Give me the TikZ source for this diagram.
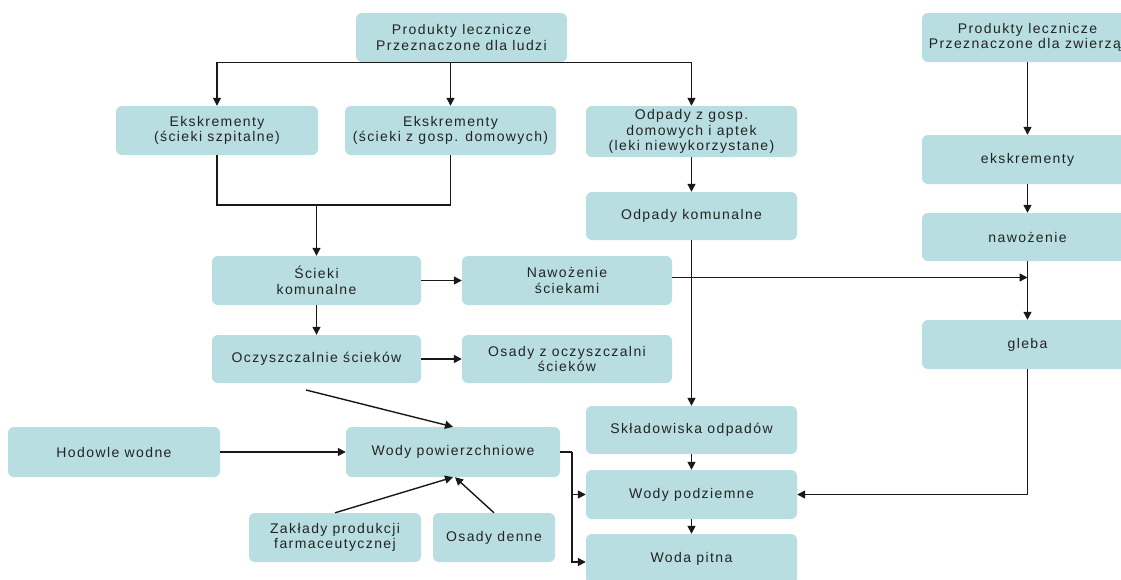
\documentclass[tikz,border=0pt]{standalone}
\usepackage{fontspec}
\setmainfont{Liberation Sans}[LetterSpace=10]
\usetikzlibrary{arrows.meta,calc}
\definecolor{boxfill}{RGB}{184,222,225}
\definecolor{txt}{RGB}{35,35,35}
\definecolor{ln}{RGB}{25,25,25}
\newcommand\bx[6]{\node[box, minimum width={(#4-#2)*1pt}, minimum height={(#5-#3)*1pt}] (#1) at ({(#2+#4)/2},{(#3+#5)/2}) {#6};}
\begin{document}
\begin{tikzpicture}[x=1pt,y=-1pt,
  box/.style={fill=boxfill, rounded corners=6pt, inner sep=0pt, align=center, text=txt, font=\fontsize{14}{15.5}\selectfont},
  conn/.style={draw=ln, line width=1.4pt},
  arr/.style={conn, -{Triangle[length=8pt,width=8pt]}}]
\useasboundingbox (0,0) rectangle (1121,579);
\clip (0,0) rectangle (1121,579);
\fill[white] (0,0) rectangle (1121,579);
\bx{top}{356}{13}{567}{62}{Produkty lecznicze\\Przeznaczone dla ludzi}
\bx{ek1}{116}{106}{318}{155}{Ekskrementy\\(ścieki szpitalne)}
\bx{ek2}{345}{106}{556}{155}{Ekskrementy\\(ścieki z gosp. domowych)}
\bx{odp}{586}{106}{797}{157}{Odpady z gosp.\\domowych i aptek\\(leki niewykorzystane)}
\bx{odk}{586}{192}{797}{240}{Odpady komunalne}
\bx{sk}{212}{256}{421}{305}{Ścieki\\komunalne}
\bx{nsc}{462}{256}{672}{305}{Nawożenie\\ściekami}
\bx{ocz}{212}{335}{421}{383}{Oczyszczalnie ścieków}
\bx{osz}{462}{335}{672}{383}{Osady z oczyszczalni\\ścieków}
\bx{hod}{8}{427}{220}{477}{Hodowle wodne}
\bx{wpw}{346}{427}{560}{477}{Wody powierzchniowe}
\bx{zak}{249}{513}{421}{562}{Zakłady produkcji\\farmaceutycznej}
\bx{osd}{433}{513}{555}{562}{Osady denne}
\bx{skl}{586}{406}{797}{454}{Składowiska odpadów}
\bx{wpd}{586}{470}{797}{519}{Wody podziemne}
\bx{wpi}{586}{534}{797}{584}{Woda pitna}
\bx{zw}{922}{13}{1133}{62}{Produkty lecznicze\\Przeznaczone dla zwierząt}
\bx{ekz}{922}{135}{1133}{184}{ekskrementy}
\bx{naz}{922}{213}{1133}{261}{nawożenie}
\bx{gl}{922}{320}{1133}{369}{gleba}
% connectors
\draw[conn] (ek1.north |- top.south) -- (odp.north |- top.south);
\draw[arr] (ek1.north |- top.south) -- (ek1.north);
\draw[arr] (ek2.north |- top.south) -- (ek2.north);
\draw[arr] (odp.north |- top.south) -- (odp.north);
\coordinate (j) at (316.5,205);
\draw[conn] (ek1.south) |- (j) -| (ek2.south);
\draw[arr] (j) -- (sk.north);
\draw[arr] (odp.south) -- (odk.north);
\draw[arr] (odk.south) -- (skl.north);
\draw[arr] (sk.east) -- (nsc.west);
\draw[arr] ([yshift=3pt]nsc.east) -- ([yshift=3pt]nsc.east -| gl.north);
\draw[arr] (sk.south) -- (ocz.north);
\draw[arr] (ocz.east) -- (osz.west);
\coordinate (s) at (306,390);
\draw[arr] (s) -- (wpw.north);
\draw[arr] (hod.east) -- (wpw.west);
\draw[arr] (zak.north) -- (wpw.south);
\draw[arr] (osd.north) -- ([xshift=2pt]wpw.south);
\coordinate (bend) at (572,452);
\draw[conn] (wpw.east) -- (bend);
\draw[arr] (bend) |- (wpd.west);
\draw[arr] (bend) |- ([yshift=-3pt]wpi.west);
\draw[arr] (skl.south) -- (wpd.north);
\draw[arr] (wpd.south) -- (wpi.north);
\draw[arr] (zw.south) -- (ekz.north);
\draw[arr] (ekz.south) -- (naz.north);
\draw[arr] (naz.south) -- (gl.north);
\draw[arr] (gl.south) |- (wpd.east);
\end{tikzpicture}
\end{document}
